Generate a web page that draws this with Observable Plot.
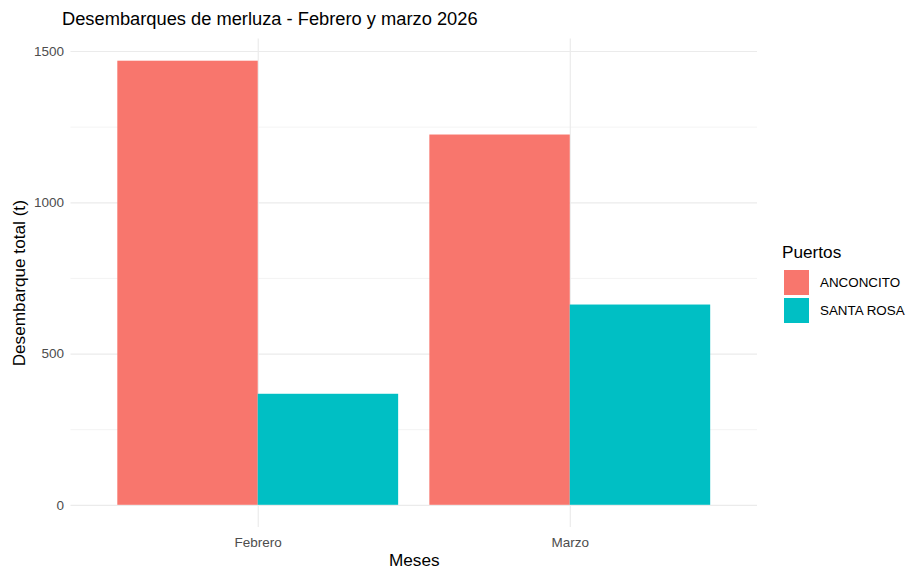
<!DOCTYPE html>
<html>
<head>
<meta charset="utf-8">
<script src="https://cdn.jsdelivr.net/npm/d3@7"></script>
<script src="https://cdn.jsdelivr.net/npm/@observablehq/plot@0.6"></script>
<style>
  html, body { margin: 0; padding: 0; background: #ffffff; }
  #wrap { position: relative; width: 909px; height: 571px; overflow: hidden; font-family: "Liberation Sans", Arial, Helvetica, sans-serif; }
  #chart { position: absolute; left: 0; top: 0; }
  #chart svg { display: block; }
  #title { position: absolute; left: 62px; top: 9.6px; font-size: 18.3px; line-height: 18px; color: #000; white-space: nowrap; }
  #legend { position: absolute; left: 782px; top: 244.4px; }
  #legend .ltitle { font-size: 17.2px; line-height: 17px; color: #000; margin-bottom: 7.8px; white-space: nowrap; }
  #legend .item { display: flex; align-items: center; height: 27.5px; }
  #legend .key { width: 25px; height: 25px; margin-left: 2px; margin-right: 11px; }
  #legend .lab { font-size: 13.4px; color: #000; white-space: nowrap; }
</style>
</head>
<body>
<div id="wrap">
  <div id="chart"></div>
  <div id="title">Desembarques de merluza - Febrero y marzo 2026</div>
  <div id="legend"></div>
</div>
<script>
// ---- Data ----
const meses = ["Febrero", "Marzo"];
const puertos = ["ANCONCITO", "SANTA ROSA"];
const anconcito = [1468, 1224];
const santaRosa = [367, 662];
const colores = ["#F8766D", "#00BFC4"];
const yTicks = [0, 500, 1000, 1500];
const yMinor = [250, 750, 1250];
const legendTitle = "Puertos";
const yTitle = "Desembarque total (t)";
const xTitle = "Meses";

// ---- Table built from arrays ----
const series = [anconcito, santaRosa];
const data = meses.flatMap((m, i) => puertos.map((p, j) => ({mes: m, puerto: p, valor: series[j][i]})));

// ---- Layout ----
const W = 909, H = 571;
const mL = 70.5, mR = 152, mT = 38.5, mB = 44;
const padIn = 0.1, padOut = 0.15;
const step = (W - mL - mR) / (meses.length - padIn + 2 * padOut);
const bw = step * (1 - padIn);
const ymax = d3.max(data, d => d.valor);
const ydom = [-0.05 * ymax, 1.05 * ymax];

const chart = Plot.plot({
  width: W,
  height: H,
  marginLeft: mL,
  marginRight: mR,
  marginTop: mT,
  marginBottom: mB,
  style: {fontFamily: "'Liberation Sans', Arial, Helvetica, sans-serif", fontSize: "13.5px", color: "#4D4D4D", background: "transparent"},
  x: {type: "band", domain: meses, paddingInner: padIn, paddingOuter: padOut, round: false, label: null, tickSize: 0, tickPadding: 10},
  y: {domain: ydom, ticks: yTicks, tickSize: 0, tickPadding: 7, label: null, tickFormat: d => String(d)},
  color: {domain: puertos, range: colores},
  marks: [
    Plot.ruleY(yMinor, {stroke: "#EBEBEB", strokeWidth: 0.6}),
    Plot.ruleY(yTicks, {stroke: "#EBEBEB", strokeWidth: 1.2}),
    Plot.ruleX(meses, {x: d => d, stroke: "#EBEBEB", strokeWidth: 1.2}),
    Plot.barY(data.filter(d => d.puerto === puertos[0]), {x: "mes", y: "valor", fill: "puerto", insetRight: bw / 2, insetLeft: 0}),
    Plot.barY(data.filter(d => d.puerto === puertos[1]), {x: "mes", y: "valor", fill: "puerto", insetLeft: bw / 2, insetRight: 0}),
    Plot.text([yTitle], {frameAnchor: "left", dx: 19 - mL, rotate: -90, textAnchor: "middle", lineAnchor: "middle", fontSize: 17.2, fill: "#000", text: d => d}),
    Plot.text([xTitle], {frameAnchor: "bottom", dy: 33.2, textAnchor: "middle", lineAnchor: "middle", fontSize: 17.2, fill: "#000", text: d => d})
  ]
});
document.getElementById("chart").appendChild(chart);

// ---- Legend (from the same arrays) ----
const leg = document.getElementById("legend");
const t = document.createElement("div");
t.className = "ltitle";
t.textContent = legendTitle;
leg.appendChild(t);
puertos.forEach((p, i) => {
  const it = document.createElement("div");
  it.className = "item";
  const k = document.createElement("div");
  k.className = "key";
  k.style.background = colores[i];
  const l = document.createElement("div");
  l.className = "lab";
  l.textContent = p;
  it.appendChild(k);
  it.appendChild(l);
  leg.appendChild(it);
});
</script>
</body>
</html>
